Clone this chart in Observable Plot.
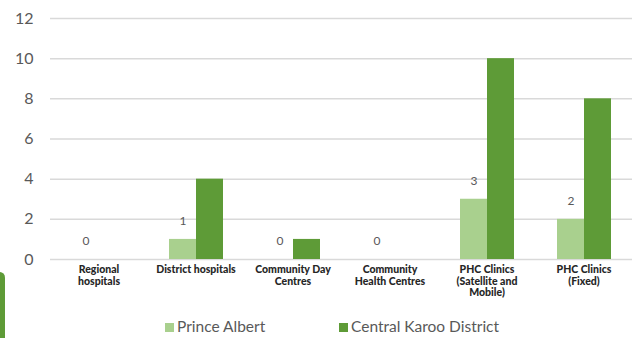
<!DOCTYPE html>
<html><head><meta charset="utf-8">
<script src="https://cdn.jsdelivr.net/npm/d3@7"></script>
<script src="https://cdn.jsdelivr.net/npm/@observablehq/plot@0.6"></script>
<style>
body{margin:0;background:#fff;font-family:Lato,"DejaVu Sans",sans-serif;}
#wrap{position:relative;width:633px;height:338px;overflow:hidden;background:#fff}
#chart{position:absolute;left:0;top:0}
.lg{position:absolute;top:316px;font-size:15.5px;color:#595959;line-height:20px;white-space:nowrap}
.lg span.sw{display:inline-block;width:9px;height:9px;margin-right:3px;vertical-align:0px}
#deco{position:absolute;left:-6px;top:272px;width:11px;height:80px;border-radius:6px;background:#5e9b37}
</style></head><body>
<div id="wrap"><div id="chart"></div><div id="legend"></div><div id="deco"></div></div>
<script>
const categories = ["Regional hospitals","District hospitals","Community Day Centres","Community Health Centres","PHC Clinics (Satellite and Mobile)","PHC Clinics (Fixed)"];
const tickLabels = ["Regional\nhospitals","District hospitals","Community Day\nCentres","Community\nHealth Centres","PHC Clinics\n(Satellite and\nMobile)","PHC Clinics\n(Fixed)"];
const series = ["Prince Albert","Central Karoo District"];
const princeAlbert = [0,1,0,0,3,2];
const centralKaroo = [0,4,1,0,10,8];
const yTicks = [0,2,4,6,8,10,12];
const colors = ["#a9d08e","#5e9b37"];

const data = categories.flatMap((c,i)=>[
  {category:c, series:series[0], value:princeAlbert[i]},
  {category:c, series:series[1], value:centralKaroo[i]}
]);
const labelMap = new Map(categories.map((c,i)=>[c,tickLabels[i]]));

const chart = Plot.plot({
  width:633, height:312, marginTop:18, marginBottom:53, marginLeft:48, marginRight:0,
  style:{background:"transparent", fontFamily:"Lato, 'DejaVu Sans', sans-serif", color:"#595959"},
  y:{domain:[0,12]},
  fx:{domain:categories, padding:0},
  x:{domain:series, paddingInner:0, paddingOuter:0.74},
  color:{domain:series, range:colors},
  marks:[
    Plot.gridY(yTicks, {stroke:"#d9d9d9", strokeOpacity:1, strokeWidth:1.5}),
    Plot.barY(data, {fx:"category", x:"series", y:"value", fill:"series"}),
    Plot.text(data.filter(d=>d.series===series[0]), {fx:"category", x:"series", y:"value", text:d=>String(d.value), dy:-18, fill:"#595959", fontSize:12}),
    Plot.axisY(yTicks, {tickSize:0, tickPadding:17, fontSize:16, fill:"#595959", label:null}),
    Plot.axisFx({anchor:"bottom", tickSize:0, tickPadding:5, fontSize:10.5, fontWeight:900, fill:"#262626", lineHeight:1.12, tickFormat:d=>labelMap.get(d), label:null}),
    Plot.axisX({ticks:[], label:null})
  ]
});
document.getElementById("chart").appendChild(chart);

const legend = document.getElementById("legend");
const legendX = [165, 339];
series.forEach((s,i)=>{
  const el = document.createElement("div");
  el.className = "lg";
  el.style.left = legendX[i] + "px";
  el.innerHTML = `<span class="sw" style="background:${colors[i]}"></span>${s}`;
  legend.appendChild(el);
});
</script>
</body></html>
